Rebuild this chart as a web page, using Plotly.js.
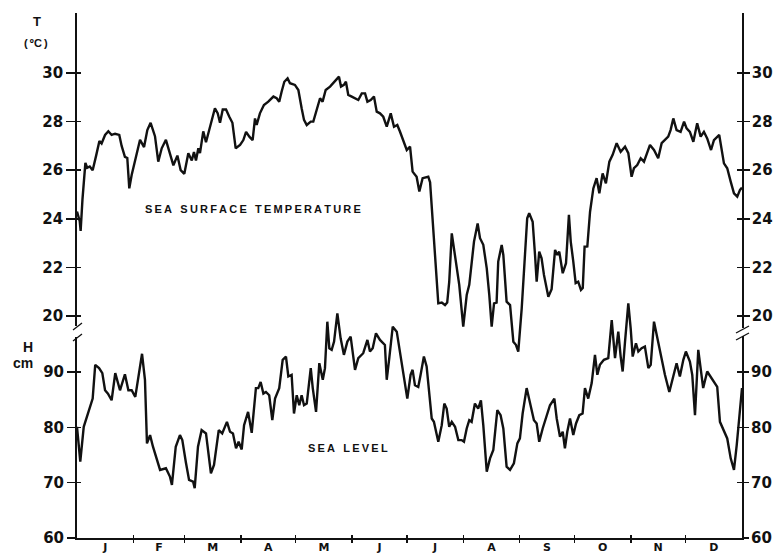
<!DOCTYPE html>
<html><head><meta charset="utf-8">
<script src="https://cdn.plot.ly/plotly-3.0.1.min.js"></script>
<style>html,body{margin:0;padding:0;background:#fff}</style>
</head><body><div id="chart" style="width:778px;height:555px"></div>
<script>
// Sea surface temperature (deg C), day of year
const sstDay = [0,1.5,2.0,3.0,4.6,5.6,7.0,8.6,10.5,12.3,13.5,15.4,17.2,19.0,20.9,23.2,24.5,26.3,27.6,28.7,30.0,32.7,34.6,36.8,38.6,40.4,42.8,44.6,46.5,48.8,51.0,52.9,55.1,56.9,58.9,61.1,63.0,64.2,65.3,66.6,67.5,69.3,70.8,72.6,73.9,75.7,77.2,78.5,80.0,81.8,83.6,85.3,87.1,89.5,91.3,92.8,94.6,96.4,97.7,98.6,100.4,102.6,105.0,107.8,109.6,111.0,112.3,113.8,115.6,116.9,119.6,121.5,123.3,124.6,126.1,128.3,129.7,131.9,133.4,134.8,136.5,138.9,140.7,142.2,143.8,144.9,146.5,147.6,148.9,150.8,152.6,154.4,156.3,158.1,159.4,161.2,163.0,164.5,166.3,168.1,170.0,172.2,174.0,175.8,177.3,179.1,181.0,182.8,184.2,186.4,187.9,189.7,192.8,193.8,194.7,196.5,198.3,200.2,202.0,203.2,204.3,205.7,207.5,209.8,212.0,213.9,215.3,216.6,217.9,219.9,221.2,223.0,224.9,226.3,227.6,228.9,230.3,231.2,233.1,234.0,235.8,237.7,239.5,240.9,242.2,244.1,245.9,247.1,248.2,250.1,251.4,252.3,253.7,255.0,256.3,258.7,260.5,262.4,263.6,264.7,266.6,268.4,270.0,271.0,272.4,273.7,275.1,276.6,277.6,278.6,280.1,281.6,283.4,285.2,286.7,288.5,290.3,292.2,294.0,296.2,298.4,300.8,302.6,304.4,305.7,307.5,309.4,311.2,314.5,316.7,319.0,320.9,324.5,325.8,327.3,329.1,331.3,333.2,334.6,336.4,338.3,340.4,342.3,344.1,345.9,348.0,349.6,352.5,355.1,356.9,358.8,360.6,362.4,363.9,365];
const sstVal = [24.3,23.9,23.5,24.8,26.3,26.1,26.15,26.0,26.6,27.2,27.1,27.45,27.6,27.45,27.5,27.45,27.0,26.55,26.5,25.25,25.8,26.6,27.25,26.95,27.65,27.95,27.4,26.35,26.9,27.25,26.7,26.2,26.6,26.0,25.85,26.7,26.4,26.75,26.4,26.9,26.7,27.6,27.15,27.7,28.1,28.55,28.35,27.95,28.5,28.5,28.2,27.95,26.9,27.04,27.24,27.58,27.38,27.24,28.13,27.86,28.34,28.68,28.82,29.03,28.96,28.82,29.23,29.64,29.78,29.58,29.51,29.30,28.55,28.07,27.86,28.0,28.0,28.55,28.96,28.82,29.30,29.44,29.58,29.71,29.85,29.44,29.51,29.64,29.10,29.03,28.96,28.89,29.16,29.16,28.82,28.89,29.03,28.41,28.34,28.20,27.79,28.34,27.79,27.86,27.58,27.17,26.83,26.97,25.94,25.73,25.12,25.67,25.73,25.5,24.57,22.51,20.52,20.55,20.45,20.55,21.4,23.40,22.37,21.28,19.56,20.86,21.28,22.30,23.06,23.81,23.20,22.93,21.96,20.86,19.56,20.52,20.55,22.24,22.92,22.51,20.59,20.45,18.94,18.81,18.53,20.32,22.51,24.02,24.23,23.88,22.51,21.41,22.65,22.37,21.69,20.79,21.1,22.72,22.51,22.65,21.76,22.17,24.16,23.06,22.24,21.35,21.41,21.07,21.15,22.85,22.86,24.29,25.25,25.67,25.05,25.87,25.46,26.35,26.63,27.11,26.76,26.97,26.70,25.73,26.08,26.21,26.49,26.35,27.04,26.83,26.49,27.11,27.38,27.65,28.13,27.65,27.58,28.0,27.72,27.58,27.17,27.93,27.38,27.58,27.31,26.83,27.24,27.45,26.28,26.08,25.53,25.05,24.91,25.19,25.28];

// Sea level (cm), day of year
const slDay = [0,1.8,3.7,6.0,8.6,10.0,12.1,13.9,15.4,17.0,19.0,21.0,23.6,26.3,28.2,30.0,32.0,35.7,37.3,38.4,40.1,41.7,43.4,45.6,48.8,51.0,52.1,54.2,56.5,57.8,59.8,61.5,63.7,64.6,66.4,68.4,70.8,73.5,75.2,77.8,79.7,82.3,84.0,85.6,87.3,88.7,90.4,91.7,93.9,95.9,98.2,99.5,100.8,102.3,103.7,105.5,107.2,108.7,111.0,112.9,114.7,116.0,117.8,119.1,120.6,122.0,123.3,124.6,126.1,128.3,129.4,131.2,133.0,134.9,136.1,137.4,138.5,139.8,141.1,142.9,144.7,146.5,148.4,150.2,152.6,154.4,157.1,159.4,160.8,162.3,164.1,166.3,169.0,170.0,171.4,173.3,175.5,176.9,179.1,181.3,183.1,184.2,185.5,187.3,188.6,190.4,191.9,193.4,194.7,195.9,198.3,200.2,201.6,202.9,204.3,205.7,207.5,209.3,211.1,212.4,213.9,215.3,216.6,218.4,220.2,221.7,223.0,224.9,226.7,228.5,230.7,232.5,234.0,235.8,237.7,239.8,241.7,243.1,244.6,246.8,249.0,250.8,252.3,253.7,255.6,257.8,259.6,262.0,263.3,265.1,266.6,267.8,269.1,270.6,272.4,273.9,275.7,277.5,278.8,280.6,282.5,284.3,285.6,287.0,289.2,291.6,293.5,295.3,297.1,298.4,299.5,300.8,302.6,303.9,305.0,306.8,308.1,309.9,311.7,313.6,314.9,316.7,318.5,320.4,322.7,325.1,327.3,329.1,330.9,332.8,334.2,336.4,337.7,339.2,341.0,342.3,343.7,345.9,347.8,349.6,351.4,352.9,355.1,356.9,358.8,360.6,362.1,363.5,365];
const slVal = [80.1,73.8,80.1,82.5,85.2,91.3,90.7,89.8,86.7,86.1,84.9,89.8,86.7,89.6,86.7,86.7,85.5,93.3,88.6,77.1,78.6,76.5,74.7,72.3,72.6,71.1,69.6,76.5,78.6,77.7,73.6,70.5,70.2,69.0,76.5,79.5,78.9,71.7,73.2,79.5,78.9,81.0,79.2,78.9,76.2,77.4,76.0,80.4,82.8,79.0,87.1,87.1,88.2,86.1,86.4,85.8,81.3,85.2,87.1,92.2,92.8,89.2,89.5,82.5,85.8,84.0,85.8,84.0,84.3,90.7,87.1,82.8,91.6,88.6,90.7,99.1,94.3,94.0,95.5,100.6,96.1,93.1,95.5,96.4,90.4,92.5,93.4,95.8,93.7,94.3,97.0,95.8,94.9,88.6,92.5,98.2,97.3,94.3,89.2,85.2,89.5,90.4,87.6,87.3,89.5,92.8,91.0,86.4,81.6,81.0,77.4,80.4,84.3,83.4,80.1,81.0,80.1,77.7,77.7,77.4,79.8,81.3,81.0,84.3,83.4,84.9,80.4,72.0,74.4,75.9,83.1,82.2,79.8,72.9,72.3,73.5,77.1,78.0,82.5,87.1,84.0,81.3,80.7,77.4,79.8,82.2,84.0,85.2,81.6,78.3,79.2,76.2,79.2,81.6,78.6,80.7,82.2,82.5,87.1,85.2,88.0,93.1,89.5,91.3,92.2,92.5,99.4,92.5,97.3,92.8,90.1,95.5,102.4,97.9,92.8,95.2,93.7,94.3,94.6,90.7,91.3,99.1,96.1,93.1,89.5,86.4,89.5,91.6,89.2,92.2,93.7,91.9,89.5,82.2,94.0,90.4,87.1,90.1,89.2,88.2,87.3,81.0,79.5,78.0,74.4,72.3,76.8,82.2,87.1];

const monthLabels = ['J','F','M','A','M','J','J','A','S','O','N','D'];
const monthStarts = [0,31,59,90,120,151,181,212,243,273,304,334,365];
const sstTicks = [20,22,24,26,28,30];
const slTicks = [60,70,80,90];

const monthCenters = monthLabels.map((m,i)=>(monthStarts[i]+monthStarts[i+1])/2);
const monthBounds = monthStarts.slice(1,-1);

const INK = '#111';
const tickFont = {family:'DejaVu Sans, Liberation Sans, sans-serif', size:15, color:INK, weight:700};
const monthFont = {family:'DejaVu Sans, Liberation Sans, sans-serif', size:11, color:INK, weight:700};
const sstRange = [10.86, 32.47];
const slRange = [60, 154.9];

function yax(range, vals, side, ticks, len, labels, line, overlay){
  const a = {range:range, tickvals:vals, ticks:ticks, ticklen:len, tickwidth:1.5, tickcolor:INK,
    showticklabels:labels, tickfont:tickFont, showgrid:false, zeroline:false, fixedrange:true,
    showline:line, linecolor:INK, linewidth:1.8, anchor:'x', side:side};
  if (overlay) a.overlaying = 'y';
  if (side === 'right' && labels) a.ticklabelstandoff = -1;
  return a;
}

const data = [
  {x:sstDay, y:sstVal, xaxis:'x', yaxis:'y', mode:'lines', line:{color:INK, width:2.4}, hoverinfo:'skip', showlegend:false},
  {x:slDay, y:slVal, xaxis:'x', yaxis:'y2', mode:'lines', line:{color:INK, width:2.4}, hoverinfo:'skip', showlegend:false}
];
['y3','y4','y5','y6','y7','y8'].forEach(ya=>data.push({x:[null],y:[null],xaxis:'x',yaxis:ya,mode:'lines',showlegend:false,hoverinfo:'skip'}));
['x2','x3'].forEach(xa=>data.push({x:[null],y:[null],xaxis:xa,yaxis:'y',mode:'lines',showlegend:false,hoverinfo:'skip'}));

const px = X => (X-77)/665;
const py = Y => (538-Y)/525;
const annFont = (s)=>({family:'Liberation Sans, Arial, sans-serif', size:s, color:INK, weight:700});
const T = '\u2009';
const spaced = s => s.split(' ').map(w=>w.split('').join(T)).join('\u00a0\u00a0'+T);

const layout = {
  width:778, height:555,
  margin:{l:77, r:36, t:13, b:17, pad:0},
  paper_bgcolor:'#fff', plot_bgcolor:'#fff',
  showlegend:false,
  xaxis:{range:[0,365], tickvals:monthCenters, ticktext:monthLabels, ticks:'outside', ticklen:1, tickcolor:'rgba(0,0,0,0)',
    ticklabelstandoff:-3,
    tickfont:monthFont, showgrid:false, zeroline:false, fixedrange:true, showline:true, linecolor:INK, linewidth:1.8, anchor:'y'},
  xaxis2:{range:[0,365], tickvals:monthBounds, ticks:'outside', ticklen:4, tickwidth:1.5, tickcolor:INK, showticklabels:false,
    showgrid:false, zeroline:false, fixedrange:true, showline:false, overlaying:'x', anchor:'y'},
  xaxis3:{range:[0,365], tickvals:monthBounds, ticks:'inside', ticklen:3, tickwidth:1.5, tickcolor:INK, showticklabels:false,
    showgrid:false, zeroline:false, fixedrange:true, showline:false, overlaying:'x', anchor:'y'},
  yaxis:  yax(sstRange, sstTicks, 'left', 'outside', 9, true, true, false),
  yaxis2: yax(slRange, slTicks, 'left', 'outside', 9, true, false, true),
  yaxis3: yax(sstRange, sstTicks, 'left', 'inside', 4, false, false, true),
  yaxis4: yax(slRange, slTicks, 'left', 'inside', 4, false, false, true),
  yaxis5: yax(sstRange, sstTicks, 'right', 'outside', 6, true, true, true),
  yaxis6: yax(slRange, slTicks, 'right', 'outside', 6, true, false, true),
  yaxis7: yax(sstRange, sstTicks, 'right', 'inside', 5, false, false, true),
  yaxis8: yax(slRange, slTicks, 'right', 'inside', 5, false, false, true),
  shapes:[
    {type:'rect', xref:'paper', yref:'paper', x0:px(74), x1:px(80), y0:py(337), y1:py(326), fillcolor:'#fff', line:{width:0}, layer:'above'},
    {type:'line', xref:'paper', yref:'paper', x0:px(73), y0:py(330), x1:px(82), y1:py(323), line:{color:INK, width:1.3}, layer:'above'},
    {type:'line', xref:'paper', yref:'paper', x0:px(73), y0:py(341), x1:px(82), y1:py(334), line:{color:INK, width:1.3}, layer:'above'},
    {type:'rect', xref:'paper', yref:'paper', x0:px(739), x1:px(745), y0:py(336), y1:py(328), fillcolor:'#fff', line:{width:0}, layer:'above'},
    {type:'line', xref:'paper', yref:'paper', x0:px(736), y0:py(333), x1:px(749), y1:py(326), line:{color:INK, width:1.3}, layer:'above'},
    {type:'line', xref:'paper', yref:'paper', x0:px(736), y0:py(340), x1:px(749), y1:py(333), line:{color:INK, width:1.3}, layer:'above'}
  ],
  annotations:[
    {text:'T', x:px(37), y:py(22), xref:'paper', yref:'paper', showarrow:false, xanchor:'center', yanchor:'middle', font:annFont(13)},
    {text:'('+T+'\u00baC'+T+')', x:px(36), y:py(43), xref:'paper', yref:'paper', showarrow:false, xanchor:'center', yanchor:'middle', font:annFont(11)},
    {text:'H', x:px(28), y:py(347), xref:'paper', yref:'paper', showarrow:false, xanchor:'center', yanchor:'middle', font:annFont(14)},
    {text:'cm', x:px(23), y:py(363), xref:'paper', yref:'paper', showarrow:false, xanchor:'center', yanchor:'middle', font:annFont(14)},
    {text:spaced('SEA SURFACE TEMPERATURE'), x:px(253), y:py(209), xref:'paper', yref:'paper', showarrow:false, xanchor:'center', yanchor:'middle', font:annFont(11)},
    {text:spaced('SEA LEVEL'), x:px(348), y:py(448), xref:'paper', yref:'paper', showarrow:false, xanchor:'center', yanchor:'middle', font:annFont(11)}
  ]
};

Plotly.newPlot('chart', data, layout, {staticPlot:true, displayModeBar:false});
</script>
</body></html>
